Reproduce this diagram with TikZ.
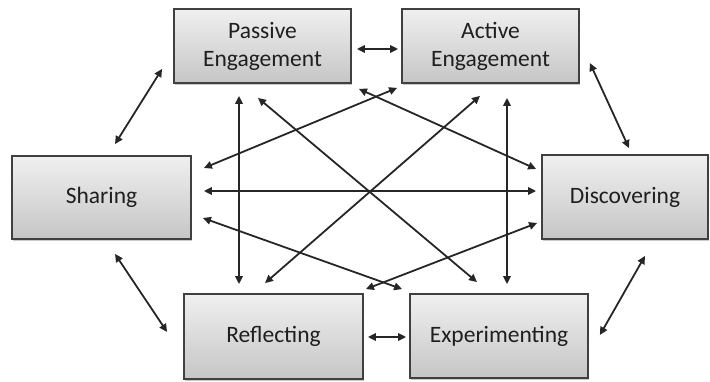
\documentclass[tikz,border=0pt]{standalone}
\usepackage{fontspec}
\setmainfont{Carlito}
\usetikzlibrary{arrows.meta,shadows}
\begin{document}
\begin{tikzpicture}[x=1pt,y=-1pt,
  stage/.style={rectangle, draw=black!75, line width=1.8pt,
    top color=gray!12, bottom color=gray!45,
    drop shadow={shadow xshift=1pt, shadow yshift=-1.5pt, fill=black!35, opacity=0.6},
    text=black!88, align=center, inner sep=0pt,
    font=\fontsize{23.5}{28}\selectfont},
  link/.style={draw=black!85, line width=1.8pt,
    {Triangle[length=8pt,width=7.5pt]}-{Triangle[length=8pt,width=7.5pt]}}]
\useasboundingbox (0,0) rectangle (710,381);

% the six stages
\node[stage, minimum width=177pt, minimum height=74pt] (P) at (262.5,46) {Passive\\Engagement};
\node[stage, minimum width=177pt, minimum height=74pt] (A) at (490.5,46) {Active\\Engagement};
\node[stage, minimum width=179pt, minimum height=83pt] (S) at (101.5,197.5) {Sharing};
\node[stage, minimum width=166pt, minimum height=84pt] (D) at (625,197) {Discovering};
\node[stage, minimum width=179pt, minimum height=85pt] (R) at (273.5,336.5) {Reflecting};
\node[stage, minimum width=178pt, minimum height=84pt] (E) at (499,336) {Experimenting};

% links around the ring
\draw[link] ([shift={(-11,-15)}]P.south west) -- ([shift={(13.5,-11)}]S.north);
\draw[link] ([shift={(13.5,14)}]S.south) -- ([shift={(-16,-4.5)}]R.west);
\draw[link] ([shift={(10,17)}]A.east) -- ([shift={(4,-6)}]D.north);
\draw[link] ([shift={(20,16)}]D.south) -- ([shift={(11,-1)}]E.east);
\draw[link] ([shift={(5,3)}]P.east) -- ([shift={(-3,3)}]A.west);
\draw[link] ([shift={(4,0.5)}]R.east) -- ([shift={(-3,1)}]E.west);

% links across the middle
\draw[link] ([shift={(-23.5,12)}]P.south) -- ([shift={(-34.5,-9)}]R.north);
\draw[link] ([shift={(16.5,14)}]A.south) -- ([shift={(8,-9)}]E.north);
\draw[link] ([shift={(7,5)}]P.south east) -- ([shift={(-5,-28)}]D.west);
\draw[link] ([shift={(-4,4)}]A.south west) -- ([shift={(12,-29.5)}]S.east);
\draw[link] ([shift={(-4.5,14)}]P.south) -- ([shift={(-22,-11)}]E.north);
\draw[link] ([shift={(-10.5,12)}]A.south) -- ([shift={(-8.5,-10)}]R.north);
\draw[link] ([shift={(12,-6.5)}]S.east) -- ([shift={(-5,-6)}]D.west);
\draw[link] ([shift={(11,20.5)}]S.east) -- ([shift={(-7,-4)}]E.north west);
\draw[link] ([shift={(-4,26)}]D.west) -- ([shift={(2,-4)}]R.north east);
\end{tikzpicture}
\end{document}
